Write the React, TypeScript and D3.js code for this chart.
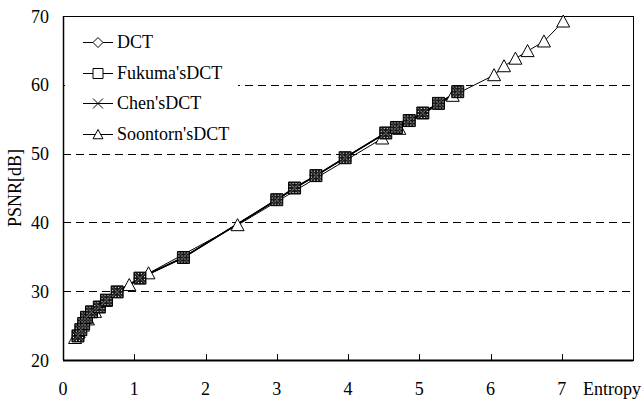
import { useEffect, useRef } from 'react';
import { select, scaleLinear, line } from 'd3';

// entropy / PSNR pairs
const dctEntropy = [0.21, 0.25, 0.29, 0.33, 0.4, 0.51, 0.61, 0.76, 1.08, 1.69, 3.0, 3.25, 3.55, 3.96, 4.53, 4.68, 4.86, 5.05, 5.27, 5.54];
const dctPsnr = [23.5, 24.4, 25.3, 26.2, 27.0, 27.7, 28.7, 29.9, 31.9, 34.9, 43.3, 45.0, 46.8, 49.4, 53.0, 53.8, 54.8, 55.9, 57.3, 59.0];

const fukumaEntropy = [0.21, 0.25, 0.29, 0.33, 0.4, 0.51, 0.61, 0.76, 1.08, 1.69, 3.0, 3.25, 3.55, 3.96, 4.53, 4.68, 4.86, 5.05, 5.27, 5.54];
const fukumaPsnr = [23.5, 24.4, 25.3, 26.2, 27.0, 27.7, 28.7, 29.9, 31.9, 34.9, 43.3, 45.0, 46.8, 49.4, 53.0, 53.8, 54.8, 55.9, 57.3, 59.0];

const chenEntropy = [0.21, 0.25, 0.29, 0.33, 0.4, 0.51, 0.61, 0.76, 1.08, 1.69, 3.0, 3.25, 3.55, 3.96, 4.53, 4.68, 4.86, 5.05, 5.27, 5.54];
const chenPsnr = [23.5, 24.4, 25.3, 26.2, 27.0, 27.7, 28.7, 29.9, 31.9, 34.9, 43.3, 45.0, 46.8, 49.4, 53.0, 53.8, 54.8, 55.9, 57.3, 59.0];

const soontornEntropy = [0.17, 0.22, 0.28, 0.35, 0.45, 0.6, 0.93, 1.2, 2.45, 4.48, 4.72, 5.47, 6.05, 6.19, 6.35, 6.52, 6.75, 7.02];
const soontornPsnr = [23.2, 24.0, 25.0, 25.9, 27.0, 28.6, 30.9, 32.6, 39.6, 52.2, 53.6, 58.4, 61.4, 62.7, 63.8, 64.9, 66.3, 69.2];

const seriesNames = ['DCT', "Fukuma'sDCT", "Chen'sDCT", "Soontorn'sDCT"];
const xTicks = [0, 1, 2, 3, 4, 5, 6, 7];
const yTicks = [20, 30, 40, 50, 60, 70];
const gridValues = [30, 40, 50, 60];

const FONT = '"Liberation Serif", "Times New Roman", serif';

// marker path generators, centred on 0,0
const markerPath = (kind, s) => {
  if (kind === 'diamond') return `M0,${-s}L${s},0L0,${s}L${-s},0Z`;
  if (kind === 'square') return `M${-s},${-s}H${s}V${s}H${-s}Z`;
  if (kind === 'x') return `M${-s},${-s}L${s},${s}M${-s},${s}L${s},${-s}`;
  return `M0,${-s}L${s},${s * 0.85}L${-s},${s * 0.85}Z`;
};

const App = () => {
  const svgRef = useRef(null);

  useEffect(() => {
    const W = 643;
    const H = 400;
    const margin = { top: 16, right: 10, bottom: 40, left: 63 };
    const svg = select(svgRef.current).attr('width', W).attr('height', H);
    svg.selectAll('*').remove();

    const x = scaleLinear().domain([0, 8]).range([margin.left, W - margin.right]);
    const y = scaleLinear().domain([20, 70]).range([H - margin.bottom, margin.top]);

    // dark dotted fill that the stacked markers show in the original
    const defs = svg.append('defs');
    const pat = defs
      .append('pattern')
      .attr('id', 'dots')
      .attr('width', 3)
      .attr('height', 3)
      .attr('patternUnits', 'userSpaceOnUse');
    pat.append('rect').attr('width', 3).attr('height', 3).attr('fill', '#1a1a1a');
    pat.append('rect').attr('x', 1).attr('y', 1).attr('width', 1).attr('height', 1).attr('fill', '#fff');

    // grid lines
    svg
      .append('g')
      .selectAll('line')
      .data(gridValues)
      .enter()
      .append('line')
      .attr('x1', x(0))
      .attr('x2', x(8))
      .attr('y1', (d) => Math.round(y(d)) + 0.5)
      .attr('y2', (d) => Math.round(y(d)) + 0.5)
      .attr('stroke', '#000')
      .attr('stroke-width', 1)
      .attr('stroke-dasharray', '8,5');

    // frame
    svg
      .append('rect')
      .attr('x', x(0) + 0.5)
      .attr('y', y(70) + 0.5)
      .attr('width', x(8) - x(0))
      .attr('height', y(20) - y(70))
      .attr('fill', 'none')
      .attr('stroke', '#000')
      .attr('stroke-width', 1);
    // thicker left & bottom axes
    svg.append('line').attr('x1', x(0) + 0.5).attr('x2', x(0) + 0.5).attr('y1', y(70)).attr('y2', y(20)).attr('stroke', '#000').attr('stroke-width', 1.5);
    svg.append('line').attr('x1', x(0)).attr('x2', x(8)).attr('y1', y(20) + 0.5).attr('y2', y(20) + 0.5).attr('stroke', '#000').attr('stroke-width', 2);

    // ticks (inward)
    svg
      .append('g')
      .selectAll('line')
      .data(xTicks.slice(1))
      .enter()
      .append('line')
      .attr('x1', (d) => Math.round(x(d)) + 0.5)
      .attr('x2', (d) => Math.round(x(d)) + 0.5)
      .attr('y1', y(20))
      .attr('y2', y(20) - 6)
      .attr('stroke', '#000');
    svg
      .append('g')
      .selectAll('line')
      .data(yTicks.slice(1, -1))
      .enter()
      .append('line')
      .attr('x1', x(0))
      .attr('x2', x(0) + 6)
      .attr('y1', (d) => Math.round(y(d)) + 0.5)
      .attr('y2', (d) => Math.round(y(d)) + 0.5)
      .attr('stroke', '#000');

    // tick labels
    svg
      .append('g')
      .selectAll('text')
      .data(xTicks)
      .enter()
      .append('text')
      .attr('x', (d) => x(d))
      .attr('y', 395)
      .attr('text-anchor', 'middle')
      .style('font-family', FONT)
      .style('font-size', '18px')
      .text((d) => d);
    svg
      .append('text')
      .attr('x', 583)
      .attr('y', 395)
      .style('font-family', FONT)
      .style('font-size', '18px')
      .text('Entropy');
    svg
      .append('g')
      .selectAll('text')
      .data(yTicks)
      .enter()
      .append('text')
      .attr('x', 49)
      .attr('y', (d) => y(d) + 6.5)
      .attr('text-anchor', 'end')
      .style('font-family', FONT)
      .style('font-size', '18px')
      .text((d) => d);
    svg
      .append('text')
      .attr('transform', 'translate(21,188) rotate(-90)')
      .attr('text-anchor', 'middle')
      .style('font-family', FONT)
      .style('font-size', '18px')
      .text('PSNR[dB]');

    const toPts = (xs, ys) => xs.map((e, i) => [x(e), y(ys[i])]);
    const path = line();
    const series = [
      { pts: toPts(soontornEntropy, soontornPsnr), kind: 'triangle', fill: '#fff', width: 1 },
      { pts: toPts(dctEntropy, dctPsnr), kind: 'diamond', fill: '#fff', width: 1.5 },
      { pts: toPts(fukumaEntropy, fukumaPsnr), kind: 'square', fill: 'url(#dots)', width: 1.5 },
      { pts: toPts(chenEntropy, chenPsnr), kind: 'x', fill: 'none', width: 1 },
    ];

    series.forEach((s) => {
      svg
        .append('path')
        .attr('d', path(s.pts))
        .attr('fill', 'none')
        .attr('stroke', '#000')
        .attr('stroke-width', s.width);
    });
    series.forEach((s) => {
      const size = s.kind === 'triangle' ? 6.5 : s.kind === 'x' ? 5 : 6;
      svg
        .append('g')
        .selectAll('path')
        .data(s.pts)
        .enter()
        .append('path')
        .attr('transform', (d) => `translate(${d[0]},${d[1]})`)
        .attr('d', markerPath(s.kind, size))
        .attr('fill', s.fill)
        .attr('stroke', s.kind === 'x' ? '#555' : '#000')
        .attr('stroke-width', 1);
    });

    // legend
    const legend = svg.append('g');
    legend.append('rect').attr('x', 65).attr('y', 18).attr('width', 173).attr('height', 128).attr('fill', '#fff');
    const kinds = ['diamond', 'square', 'x', 'triangle'];
    const rowY = [42, 73, 103, 134];
    seriesNames.forEach((name, i) => {
      const g = legend.append('g').attr('transform', `translate(0,${rowY[i]})`);
      g.append('line').attr('x1', 83).attr('x2', 113).attr('y1', 0.5).attr('y2', 0.5).attr('stroke', '#000');
      g.append('path')
        .attr('transform', 'translate(98,0.5)')
        .attr('d', markerPath(kinds[i], 5))
        .attr('fill', kinds[i] === 'x' ? 'none' : '#fff')
        .attr('stroke', '#000');
      g.append('text')
        .attr('x', 117)
        .attr('y', 6)
        .style('font-family', FONT)
        .style('font-size', '18px')
        .text(name);
    });
  }, []);

  return (
    <svg
      ref={svgRef}
      style={{ position: 'absolute', left: 0, top: 0, background: '#fff' }}
    />
  );
};

export default App;
